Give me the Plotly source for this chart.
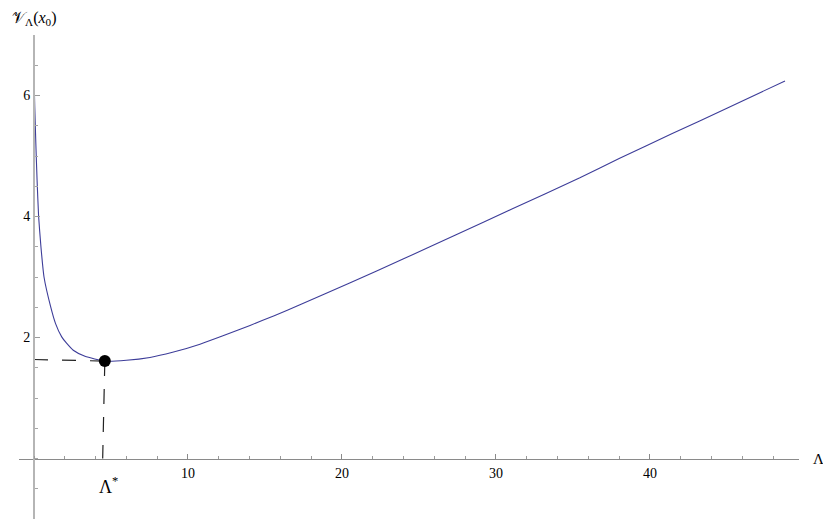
import plotly.graph_objects as go

# ---- data ----
lam = [0, 0.05, 0.12, 0.2, 0.3, 0.45, 0.65, 1.08, 1.4, 1.8, 2.1, 2.55, 3.31, 4.6, 6.0, 7.53,
       9.0, 10.78, 12.4, 14.03, 15.6, 17.27, 20.5, 24.0, 27.34, 31.0, 35.45, 38.0, 41.45,
       45.0, 48.77]
V = [6.34, 5.8, 5.2, 4.6, 4.0, 3.5, 3.0, 2.51, 2.23, 2.01, 1.91, 1.79, 1.69, 1.61, 1.623, 1.67,
     1.755, 1.89, 2.04, 2.20, 2.36, 2.54, 2.90, 3.30, 3.69, 4.12, 4.64, 4.96, 5.37,
     5.79, 6.24]

lam_star = [4.6]
v_star = [1.61]
h_guide_x = [0, 4.6]
h_guide_y = [1.636, 1.61]
v_guide_x = [4.6, 4.46]
v_guide_y = [1.61, 0]

x_ticks = [10, 20, 30, 40]
y_ticks = [2, 4, 6]

serif = "Liberation Serif, Times New Roman, serif"

fig = go.Figure()
fig.add_trace(go.Scatter(x=lam, y=V, mode="lines",
                         line=dict(color="#3d3d99", width=1.1, shape="spline", smoothing=0.5),
                         hoverinfo="skip", showlegend=False))
fig.add_trace(go.Scatter(x=h_guide_x, y=h_guide_y, mode="lines",
                         line=dict(color="#222222", width=1.2, dash="14px,14px"),
                         showlegend=False))
fig.add_trace(go.Scatter(x=v_guide_x, y=v_guide_y, mode="lines",
                         line=dict(color="#222222", width=1.2, dash="15px,13px"),
                         showlegend=False))
fig.add_trace(go.Scatter(x=lam_star, y=v_star, mode="markers",
                         marker=dict(color="black", size=12), showlegend=False))

fig.update_layout(
    width=831, height=521,
    margin=dict(l=11, r=40, t=27, b=10),
    paper_bgcolor="white", plot_bgcolor="white",
    font=dict(family=serif, size=14, color="black"),
    xaxis=dict(range=[-0.974, 49.68], showgrid=False, zeroline=False,
               anchor="free", position=0.125, automargin=False,
               showline=True, linecolor="#8a8a8a", linewidth=1,
               tickvals=x_ticks, ticks="inside", ticklen=5, tickcolor="#8a8a8a",
               ticklabelstandoff=2,
               minor=dict(dtick=2, tick0=0, ticks="inside", ticklen=3, tickcolor="#9a9a9a"),
               tickfont=dict(family=serif, size=14, color="black")),
    yaxis=dict(range=[-1.0, 7.0], showgrid=False, zeroline=False,
               anchor="free", position=0.01923, automargin=False,
               showline=True, linecolor="#b5b5b5", linewidth=2,
               tickvals=y_ticks, ticks="inside", ticklen=5, tickcolor="#9a9a9a",
               ticklabelstandoff=0,
               minor=dict(dtick=0.5, tick0=0, ticks="inside", ticklen=3, tickcolor="#a5a5a5"),
               tickfont=dict(family=serif, size=14, color="black")),
    annotations=[
        dict(x=0.01923, y=1.035, xref="paper", yref="paper",
             text="𝒱<sub>Λ</sub>(<i>x</i><sub>0</sub>)",
             showarrow=False, xanchor="center", yanchor="middle",
             font=dict(family=serif, size=16)),
        dict(x=1.0244, y=0.125, xref="paper", yref="paper", text="Λ", showarrow=False,
             xanchor="center", yanchor="middle", font=dict(family=serif, size=15)),
        dict(x=4.87, y=-0.44, xref="x", yref="y", text="Λ<sup>*</sup>", showarrow=False,
             xanchor="center", yanchor="middle", font=dict(family=serif, size=18)),
    ],
)

fig.write_html("out.html")
